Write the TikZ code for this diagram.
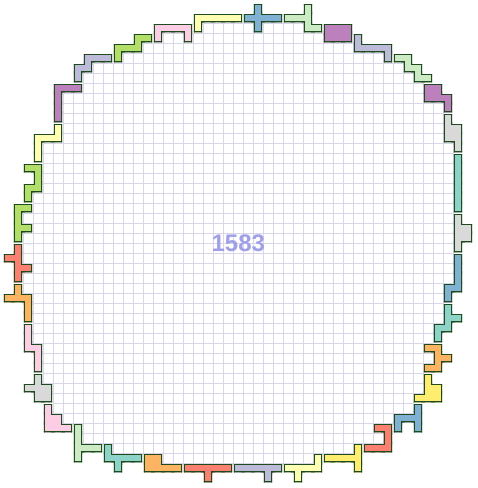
\documentclass[tikz,border=0pt]{standalone}
\usepackage{fontspec}
\setmainfont{Liberation Sans}
\definecolor{pdark}{HTML}{1F4A1F}
\definecolor{gridc}{RGB}{218,214,234}
\definecolor{numc}{RGB}{160,160,232}
\definecolor{cTeal}{HTML}{8DD3C7}
\definecolor{cLYel}{HTML}{FFFFB3}
\definecolor{cLav}{HTML}{BEBADA}
\definecolor{cSal}{HTML}{FB8072}
\definecolor{cBlue}{HTML}{80B1D3}
\definecolor{cOra}{HTML}{FDB462}
\definecolor{cGrn}{HTML}{B3DE69}
\definecolor{cPink}{HTML}{FCCDE5}
\definecolor{cGray}{HTML}{D9D9D9}
\definecolor{cPur}{HTML}{BC80BD}
\definecolor{cLGrn}{HTML}{CCEBC5}
\definecolor{cYel}{HTML}{FFED6F}
\makeatletter
\def\hpd{0.09}
\newcommand\hp@inlist[1]{\edef\hp@test{\noexpand\in@{,#1,}{\hp@list}}\hp@test}
\newcommand\hp@addrect[4]{\xdef\hp@path{\hp@path (#1,#2) rectangle (#3,#4)}}
\newcommand\hp@cell[2]{%
  \pgfmathtruncatemacro\hp@cp{#1+1}%
  \pgfmathtruncatemacro\hp@rp{#2+1}%
  \pgfmathsetmacro\hp@xa{#1+\hpd}%
  \pgfmathsetmacro\hp@xb{#1+1-\hpd}%
  \pgfmathsetmacro\hp@xc{#1+1+\hpd}%
  \pgfmathsetmacro\hp@ya{#2+\hpd}%
  \pgfmathsetmacro\hp@yb{#2+1-\hpd}%
  \pgfmathsetmacro\hp@yc{#2+1+\hpd}%
  \hp@addrect{\hp@xa}{\hp@ya}{\hp@xb}{\hp@yb}%
  \hp@inlist{\hp@cp/#2}\ifin@\hp@addrect{\hp@xb}{\hp@ya}{\hp@xc}{\hp@yb}\fi
  \hp@inlist{#1/\hp@rp}\ifin@\hp@addrect{\hp@xa}{\hp@yb}{\hp@xb}{\hp@yc}\fi
  \hp@inlist{\hp@cp/#2}\ifin@
    \hp@inlist{#1/\hp@rp}\ifin@
      \hp@inlist{\hp@cp/\hp@rp}\ifin@\hp@addrect{\hp@xb}{\hp@yb}{\hp@xc}{\hp@yc}\fi
    \fi
  \fi
}
\newcommand\hp@edges[2]{%
  \pgfmathtruncatemacro\hp@cm{#1-1}%
  \pgfmathtruncatemacro\hp@cp{#1+1}%
  \pgfmathtruncatemacro\hp@rm{#2-1}%
  \pgfmathtruncatemacro\hp@rp{#2+1}%
  \hp@inlist{\hp@cm/#2}\ifin@\else\draw[pedge] (#1,#2) -- (#1,\hp@rp);\fi
  \hp@inlist{\hp@cp/#2}\ifin@\else\draw[pedge] (\hp@cp,#2) -- (\hp@cp,\hp@rp);\fi
  \hp@inlist{#1/\hp@rm}\ifin@\else\draw[pedge] (#1,#2) -- (\hp@cp,#2);\fi
  \hp@inlist{#1/\hp@rp}\ifin@\else\draw[pedge] (#1,\hp@rp) -- (\hp@cp,\hp@rp);\fi
}
\newcommand\hexpiece[2]{%
  \def\hp@list{,#2,}%
  \gdef\hp@path{}%
  \foreach \c/\r in {#2} {\hp@cell{\c}{\r}}%
  \begin{scope}
    \edef\hp@do{\noexpand\clip\hp@path;}\hp@do
    \fill[#1] (-1,-1) rectangle (49,50);
    \foreach \c/\r in {#2} {\hp@edges{\c}{\r}}
  \end{scope}}
\makeatother
\tikzset{gridline/.style={draw=gridc, line width=1pt},
  pedge/.style={draw=pdark, line width=4.2pt, line cap=rect}}
\begin{document}
\begin{tikzpicture}[x=10pt,y=-10pt]
\fill[white] (-0.3,-0.33) rectangle (47.5,48.47);
\useasboundingbox (-0.3,-0.33) rectangle (47.5,48.47);
% interior grid
\foreach \r/\a/\b in {2/20/24,2/26/29,3/16/17,3/19/31,4/14/34,5/12/37,6/9/39,7/8/40,8/8/41,9/6/41,10/6/43,11/6/43,12/6/43,13/6/43,14/4/44,15/4/44,16/4/44,17/4/44,18/4/44,19/3/44,20/3/44,21/2/44,22/3/44,23/2/44,24/2/44,25/2/44,26/3/44,27/2/44,28/2/43,29/3/43,30/3/43,31/3/43,32/3/42,33/3/42,34/4/41,35/4/42,36/4/41,37/4/41,38/5/41,39/5/40,40/5/40,41/6/38,42/8/36,43/8/37,44/11/34,45/16/30} {
  \pgfmathtruncatemacro\bb{\b+1}
  \pgfmathtruncatemacro\rr{\r+1}
  \draw[gridline] (\a,\r) -- (\bb,\r) (\a,\rr) -- (\bb,\rr);
  \draw[gridline] \foreach \c in {\a,...,\bb} {(\c,\r) -- (\c,\rr)};
}
% pieces
\hexpiece{cLYel}{5/12,3/13,4/13,5/13,3/14,3/15}
\hexpiece{cPur}{5/8,6/8,7/8,5/9,5/10,5/11}
\hexpiece{cLav}{8/5,9/5,10/5,7/6,8/6,7/7}
\hexpiece{cGrn}{13/3,14/3,11/4,12/4,13/4,11/5}
\hexpiece{cPink}{15/2,16/2,17/2,18/2,15/3,18/3}
\hexpiece{cLYel}{19/1,20/1,21/1,22/1,23/1,19/2}
\hexpiece{cBlue}{25/0,24/1,25/1,26/1,27/1,25/2}
\hexpiece{cLGrn}{30/0,28/1,29/1,30/1,30/2,31/2}
\hexpiece{cPur}{32/2,33/2,34/2,32/3,33/3,34/3}
\hexpiece{cLav}{35/3,35/4,36/4,37/4,38/4,38/5}
\hexpiece{cLGrn}{39/5,40/5,40/6,41/6,41/7,42/7}
\hexpiece{cPur}{42/8,43/8,42/9,43/9,44/9,44/10}
\hexpiece{cGray}{44/11,44/12,45/12,44/13,45/13,45/14}
\hexpiece{cTeal}{45/15,45/16,45/17,45/18,45/19,45/20}
\hexpiece{cGray}{45/21,45/22,46/22,45/23,46/23,45/24}
\hexpiece{cBlue}{45/25,45/26,45/27,45/28,44/28,44/29}
\hexpiece{cTeal}{44/30,44/31,45/31,43/32,44/32,43/33}
\hexpiece{cOra}{42/34,43/34,43/35,44/35,42/36,43/36}
\hexpiece{cYel}{42/37,42/38,43/38,41/39,42/39,43/39}
\hexpiece{cBlue}{41/40,39/41,40/41,41/41,39/42,41/42}
\hexpiece{cSal}{37/42,38/42,38/43,36/44,37/44,38/44}
\hexpiece{cYel}{35/44,32/45,33/45,34/45,35/45,35/46}
\hexpiece{cLYel}{31/45,28/46,29/46,30/46,31/46,29/47}
\hexpiece{cLav}{23/46,24/46,25/46,26/46,27/46,26/47}
\hexpiece{cSal}{18/46,19/46,20/46,21/46,22/46,20/47}
\hexpiece{cOra}{14/45,15/45,14/46,15/46,16/46,17/46}
\hexpiece{cTeal}{10/44,10/45,11/45,12/45,13/45,11/46}
\hexpiece{cLGrn}{7/42,7/43,7/44,8/44,9/44,7/45}
\hexpiece{cPink}{4/40,4/41,5/41,4/42,5/42,6/42}
\hexpiece{cGray}{3/37,2/38,3/38,4/38,3/39,4/39}
\hexpiece{cPink}{2/32,2/33,2/34,3/34,3/35,3/36}
\hexpiece{cOra}{1/28,0/29,1/29,2/29,2/30,2/31}
\hexpiece{cSal}{1/24,0/25,1/25,1/26,2/26,1/27}
\hexpiece{cGrn}{1/20,2/20,1/21,1/22,2/22,1/23}
\hexpiece{cGrn}{2/16,3/16,3/17,2/18,3/18,2/19}
\node[font=\bfseries\fontsize{24}{24}\selectfont, text=numc, inner sep=0pt] (lbl) at (23.53,24.0) {1583};
\end{tikzpicture}
\end{document}
